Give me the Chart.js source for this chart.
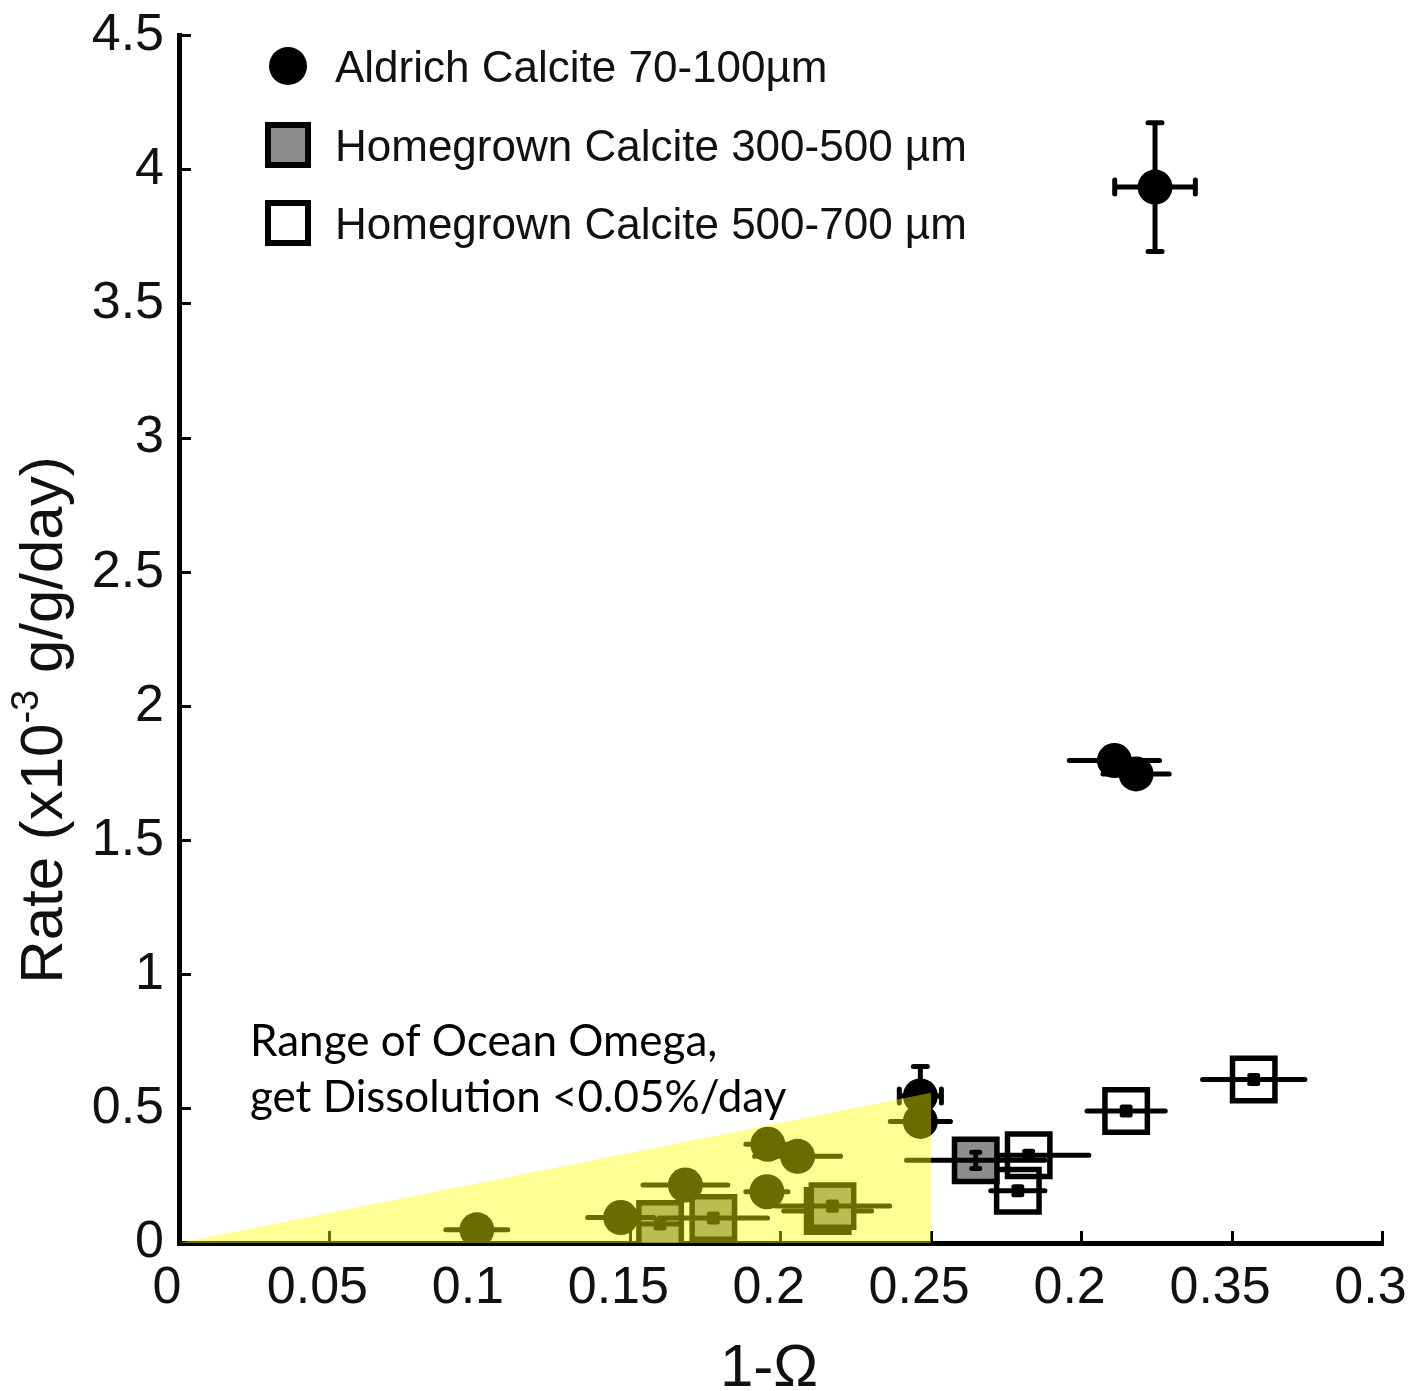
<!DOCTYPE html>
<html>
<head>
<meta charset="utf-8">
<title>Calcite dissolution rate vs 1-Ω</title>
<script src="https://cdn.jsdelivr.net/npm/chart.js@4.4.1/dist/chart.umd.min.js"></script>
<style>
  html, body { margin: 0; padding: 0; background: #fff; }
  #wrap { width: 1418px; height: 1391px; }
</style>
</head>
<body>
<div id="wrap"><canvas id="chart" width="1418" height="1391"></canvas></div>
<script>
// Aldrich calcite 70-100 µm (filled circles)
const aldrichX    = [0.3244, 0.3109, 0.3181, 0.2464, 0.2464, 0.1957, 0.2056, 0.1683, 0.1954, 0.1468, 0.0990];
const aldrichY    = [3.935, 1.798, 1.748, 0.548, 0.453, 0.368, 0.323, 0.216, 0.191, 0.095, 0.049];
const aldrichXErr = [0.0134, 0.015, 0.011, 0.007, 0.010, 0.0073, 0.0143, 0.0141, 0.007, 0.011, 0.0103];
const aldrichYErr = [0.24, 0.02, 0.02, 0.11, 0.03, 0.02, 0.02, 0.02, 0.02, 0.02, 0.02];

// Homegrown calcite 300-500 µm (grey squares)
const grey300X    = [0.2648, 0.1599, 0.1776, 0.2172];
const grey300Y    = [0.308, 0.0706, 0.093, 0.1375];
const grey300XErr = [0.023, 0.007, 0.018, 0.019];
const grey300YErr = [0.03, 0.015, 0.015, 0.015];

// Homegrown calcite 500-700 µm (open squares)
const open500X    = [0.3572, 0.3148, 0.2824, 0.2788, 0.2156];
const open500Y    = [0.609, 0.492, 0.327, 0.195, 0.119];
const open500XErr = [0.017, 0.013, 0.020, 0.009, 0.0146];
const open500YErr = [0.015, 0.015, 0.015, 0.015, 0.015];

// Ocean omega range wedge
const oceanX = [0, 0.25, 0.25];
const oceanY = [0, 0.56, 0];

const seriesLabels = ['Aldrich Calcite 70-100µm', 'Homegrown Calcite 300-500 µm', 'Homegrown Calcite 500-700 µm'];
const xTickLabels = ['0', '0.05', '0.1', '0.15', '0.2', '0.25', '0.2', '0.35', '0.3'];
const yTickLabels = ['0', '0.5', '1', '1.5', '2', '2.5', '3', '3.5', '4', '4.5'];
const xTitle = '1-Ω';
const yTitleParts = ['Rate (x10', '-3', ' g/g/day)'];
const noteLines = ['Range of Ocean Omega,', 'get Dissolution <0.05%/day'];

const FONT = '"Liberation Sans", Arial, Helvetica, sans-serif';

function pts(xs, ys) { return xs.map((x, i) => ({ x: x, y: ys[i] })); }

// Error bars drawn right after each dataset, so later layers cover them.
// Vertical bars always get end caps; horizontal bars only get caps when the
// vertical bar reaches past the marker.
const errorBars = {
  id: 'errorBars',
  afterDatasetDraw(chart, args) {
    const ds = chart.data.datasets[args.index];
    if (!ds.errX) return;
    const ctx = chart.ctx, xs = chart.scales.x, ys = chart.scales.y;
    const c = ds.capSize || 0;
    ctx.save();
    ctx.strokeStyle = '#000';
    ctx.lineWidth = 5;
    ctx.lineCap = 'round';
    ds.data.forEach((p, i) => {
      const cx = xs.getPixelForValue(p.x), cy = ys.getPixelForValue(p.y);
      const xl = xs.getPixelForValue(p.x - ds.errX[i]);
      const xr = xs.getPixelForValue(p.x + ds.errX[i]);
      const yt = ys.getPixelForValue(p.y + ds.errY[i]);
      const yb = ys.getPixelForValue(p.y - ds.errY[i]);
      ctx.beginPath();
      ctx.moveTo(xl, cy); ctx.lineTo(xr, cy);
      ctx.moveTo(cx, yt); ctx.lineTo(cx, yb);
      if (c > 0) {
        ctx.moveTo(cx - c, yt); ctx.lineTo(cx + c, yt);
        ctx.moveTo(cx - c, yb); ctx.lineTo(cx + c, yb);
        if ((yb - yt) / 2 > ds.pointRadius) {
          ctx.moveTo(xl, cy - c); ctx.lineTo(xl, cy + c);
          ctx.moveTo(xr, cy - c); ctx.lineTo(xr, cy + c);
        }
      }
      ctx.stroke();
    });
    ctx.restore();
  }
};

// Legend, axis titles and the wedge note
const decorations = {
  id: 'decorations',
  afterDraw(chart) {
    const ctx = chart.ctx;
    ctx.save();
    // legend
    const rows = [66, 145, 223];
    const mx = 288, tx = 335;
    chart.data.datasets.filter(d => d.inLegend).forEach((d, i) => {
      const y = rows[i];
      ctx.fillStyle = d.backgroundColor;
      ctx.strokeStyle = '#000';
      if (d.pointStyle === 'circle') {
        ctx.beginPath(); ctx.arc(mx, y, 19, 0, Math.PI * 2); ctx.fillStyle = '#000'; ctx.fill();
      } else {
        ctx.lineWidth = 6;
        ctx.beginPath(); ctx.rect(mx - 20, y - 20, 40, 40);
        ctx.fill(); ctx.stroke();
      }
      ctx.fillStyle = '#111';
      ctx.font = '44px ' + FONT;
      ctx.textAlign = 'left';
      ctx.textBaseline = 'alphabetic';
      ctx.fillText(d.label, tx, y + 16);
    });

    // x title
    ctx.fillStyle = '#111';
    ctx.font = '60px ' + FONT;
    ctx.textAlign = 'center';
    ctx.textBaseline = 'alphabetic';
    ctx.fillText(xTitle, 769, 1386);

    // y title with superscript exponent
    ctx.save();
    ctx.translate(62, 720);
    ctx.rotate(-Math.PI / 2);
    ctx.textAlign = 'left';
    const fonts = ['60px ' + FONT, '38px ' + FONT, '60px ' + FONT];
    const rise = [0, -24, 0];
    let total = 0;
    yTitleParts.forEach((s, i) => { ctx.font = fonts[i]; total += ctx.measureText(s).width; });
    let px = -total / 2;
    yTitleParts.forEach((s, i) => {
      ctx.font = fonts[i];
      ctx.fillText(s, px, rise[i]);
      px += ctx.measureText(s).width;
    });
    ctx.restore();

    // note on the wedge
    ctx.fillStyle = '#000';
    ctx.font = '44px Lato, "Open Sans", sans-serif';
    ctx.textAlign = 'left';
    ctx.fillText(noteLines[0], 250, 1056);
    ctx.fillText(noteLines[1], 250, 1112);
    ctx.restore();
  }
};

const tickFont = { family: FONT, size: 52 };

new Chart(document.getElementById('chart'), {
  type: 'scatter',
  data: {
    datasets: [
      {
        label: 'ocean range',
        type: 'line',
        data: pts(oceanX, oceanY),
        showLine: true,
        fill: 'origin',
        backgroundColor: 'rgba(255,255,0,0.42)',
        borderWidth: 0,
        borderColor: 'rgba(0,0,0,0)',
        pointRadius: 0,
        tension: 0,
        order: 0
      },
      {
        label: seriesLabels[0],
        inLegend: true,
        data: pts(aldrichX, aldrichY),
        errX: aldrichXErr, errY: aldrichYErr, capSize: 7,
        pointStyle: 'circle',
        pointRadius: 17.5,
        backgroundColor: '#000',
        borderColor: '#000',
        borderWidth: 0,
        order: 1
      },
      {
        label: seriesLabels[1],
        inLegend: true,
        data: pts(grey300X, grey300Y),
        errX: grey300XErr, errY: grey300YErr, capSize: 4,
        pointStyle: 'rect',
        pointRadius: 30,
        backgroundColor: '#8c8c8c',
        borderColor: '#000',
        borderWidth: 5.5,
        order: 2
      },
      {
        label: seriesLabels[2],
        inLegend: true,
        data: pts(open500X, open500Y),
        errX: open500XErr, errY: open500YErr, capSize: 4,
        pointStyle: 'rect',
        pointRadius: 30,
        backgroundColor: 'rgba(255,255,255,0)',
        borderColor: '#000',
        borderWidth: 5.5,
        order: 3
      }
    ]
  },
  options: {
    responsive: false,
    devicePixelRatio: 1,
    animation: false,
    events: [],
    layout: { padding: { top: 32, right: 33, left: 0, bottom: 0 } },
    plugins: { legend: { display: false }, tooltip: { enabled: false } },
    scales: {
      x: {
        type: 'linear',
        min: 0, max: 0.4,
        border: { display: true, color: '#000', width: 5 },
        grid: { drawOnChartArea: false, drawTicks: true, tickLength: -12, tickWidth: 3, tickColor: '#000' },
        ticks: {
          stepSize: 0.05, autoSkip: false, maxRotation: 0,
          padding: 26, labelOffset: -12,
          color: '#111', font: tickFont,
          callback: (v, i) => xTickLabels[i]
        },
        afterFit: (s) => { s.height = 148; s.paddingLeft = 0; s.paddingRight = 0; }
      },
      y: {
        type: 'linear',
        min: 0, max: 4.5,
        border: { display: true, color: '#000', width: 5 },
        grid: { drawOnChartArea: false, drawTicks: true, tickLength: -12, tickWidth: 3, tickColor: '#000' },
        ticks: {
          stepSize: 0.5, autoSkip: false,
          padding: 27,
          color: '#111', font: tickFont,
          callback: (v, i) => yTickLabels[i]
        },
        afterFit: (s) => { s.width = 179; s.paddingTop = 0; s.paddingBottom = 0; }
      }
    }
  },
  plugins: [errorBars, decorations]
});
</script>
</body>
</html>
